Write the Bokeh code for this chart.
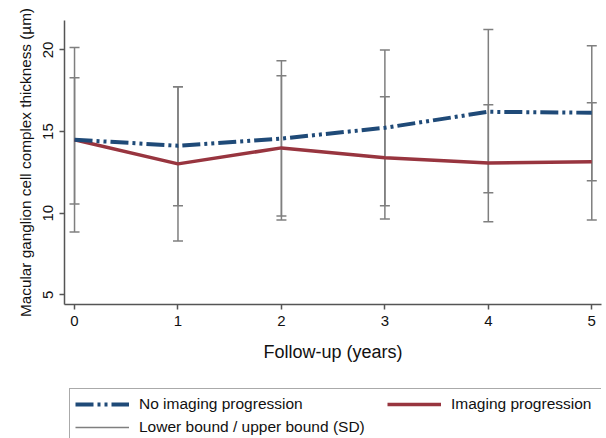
from bokeh.plotting import figure
from bokeh.layouts import column
from bokeh.models import (Whisker, TeeHead, ColumnDataSource, Legend, LegendItem,
                          Range1d, FixedTicker)
from bokeh.embed import file_html
from bokeh.resources import INLINE

years = [0, 1, 2, 3, 4, 5]
no_prog_mean = [14.5, 14.13, 14.57, 15.23, 16.21, 16.15]
no_prog_lower = [10.57, 10.45, 9.83, 10.45, 11.25, 11.98]
no_prog_upper = [18.3, 17.75, 19.34, 20.0, 21.25, 20.26]
prog_mean = [14.5, 13.02, 14.0, 13.39, 13.08, 13.15]
prog_lower = [8.85, 8.3, 9.59, 9.65, 9.47, 9.59]
prog_upper = [20.14, 17.75, 18.42, 17.13, 16.64, 16.77]
y_ticks = [5, 10, 15, 20]

FONT = "Liberation Sans"
BLUE = "#1f4a78"
RED = "#98353f"
GRAY = "#7f7f7f"
AX = "#555555"
TXT = "#111111"
DASH = "18 4 3 4 3 4"

W = 606
H_MAIN = 380
H_LEG = 58

p = figure(width=W, height=H_MAIN, output_backend="svg", toolbar_location=None,
           x_range=Range1d(-0.097, 5.094), y_range=Range1d(4.41, 21.8),
           min_border_left=64, min_border_right=5, min_border_top=20,
           min_border_bottom=76)
p.outline_line_color = None
p.xgrid.visible = False
p.ygrid.visible = False

src_np = ColumnDataSource(dict(x=years, m=no_prog_mean, lo=no_prog_lower, up=no_prog_upper))
src_p = ColumnDataSource(dict(x=years, m=prog_mean, lo=prog_lower, up=prog_upper))

for src in (src_np, src_p):
    w = Whisker(source=src, base="x", lower="lo", upper="up",
                line_color=GRAY, line_width=1.5,
                lower_head=TeeHead(size=10, line_color=GRAY, line_width=1.5),
                upper_head=TeeHead(size=10, line_color=GRAY, line_width=1.5))
    p.add_layout(w)

p.line("x", "m", source=src_p, line_color=RED, line_width=3.5)
p.line("x", "m", source=src_np, line_color=BLUE, line_width=4, line_dash=DASH)

for ax in (p.xaxis[0], p.yaxis[0]):
    ax.axis_line_color = AX
    ax.axis_line_width = 1.5
    ax.major_tick_line_color = AX
    ax.major_tick_line_width = 1.5
    ax.major_tick_out = 5
    ax.major_tick_in = 0
    ax.minor_tick_line_color = None
    ax.major_label_text_font = FONT
    ax.major_label_text_font_size = "15px"
    ax.major_label_text_color = TXT
    ax.axis_label_text_font = FONT
    ax.axis_label_text_font_style = "normal"
    ax.axis_label_text_color = TXT

p.xaxis.ticker = FixedTicker(ticks=years)
p.yaxis.ticker = FixedTicker(ticks=y_ticks)
p.xaxis.axis_label = "Follow-up (years)"
p.xaxis.axis_label_text_font_size = "18px"
p.xaxis.major_label_standoff = 6
p.xaxis.axis_label_standoff = 13
p.yaxis.axis_label = "Macular ganglion cell complex thickness (µm)"
p.yaxis.axis_label_text_font_size = "15.3px"
p.yaxis.major_label_orientation = "vertical"
p.yaxis.major_label_standoff = 6
p.yaxis.axis_label_standoff = 7

# legend strip below the chart, cut at the page edge like the reference
q = figure(width=W, height=H_LEG, output_backend="svg", toolbar_location=None,
           x_range=Range1d(0, 1), y_range=Range1d(0, 1),
           min_border_left=0, min_border_right=0, min_border_top=0,
           min_border_bottom=0, x_axis_location=None, y_axis_location=None)
q.outline_line_color = None
q.xgrid.visible = False
q.ygrid.visible = False
# legend-only renderers, drawn outside the visible range
l_blue = q.line(x=[5, 6], y=[5, 6], line_color=BLUE, line_width=4, line_dash=DASH)
l_red = q.line(x=[5, 6], y=[5, 6], line_color=RED, line_width=3.5)
l_gray = q.line(x=[5, 6], y=[5, 6], line_color=GRAY, line_width=1.5)

legend = Legend(items=[
    LegendItem(label="No imaging progression", renderers=[l_blue]),
    LegendItem(label="Imaging progression", renderers=[l_red]),
    LegendItem(label="Lower bound / upper bound (SD)", renderers=[l_gray]),
], location=(5, -5), orientation="horizontal", ncols=2,
    glyph_width=54, glyph_height=20, label_height=20, label_width=245,
    label_standoff=10, spacing=3, padding=5, margin=0,
    label_text_font=FONT, label_text_font_size="15.5px", label_text_color=TXT,
    border_line_color=AX, border_line_width=1, background_fill_color="white",
    background_fill_alpha=1)
q.add_layout(legend)

layout = column(p, q, spacing=0)
open("out.html", "w").write(file_html(layout, INLINE))
